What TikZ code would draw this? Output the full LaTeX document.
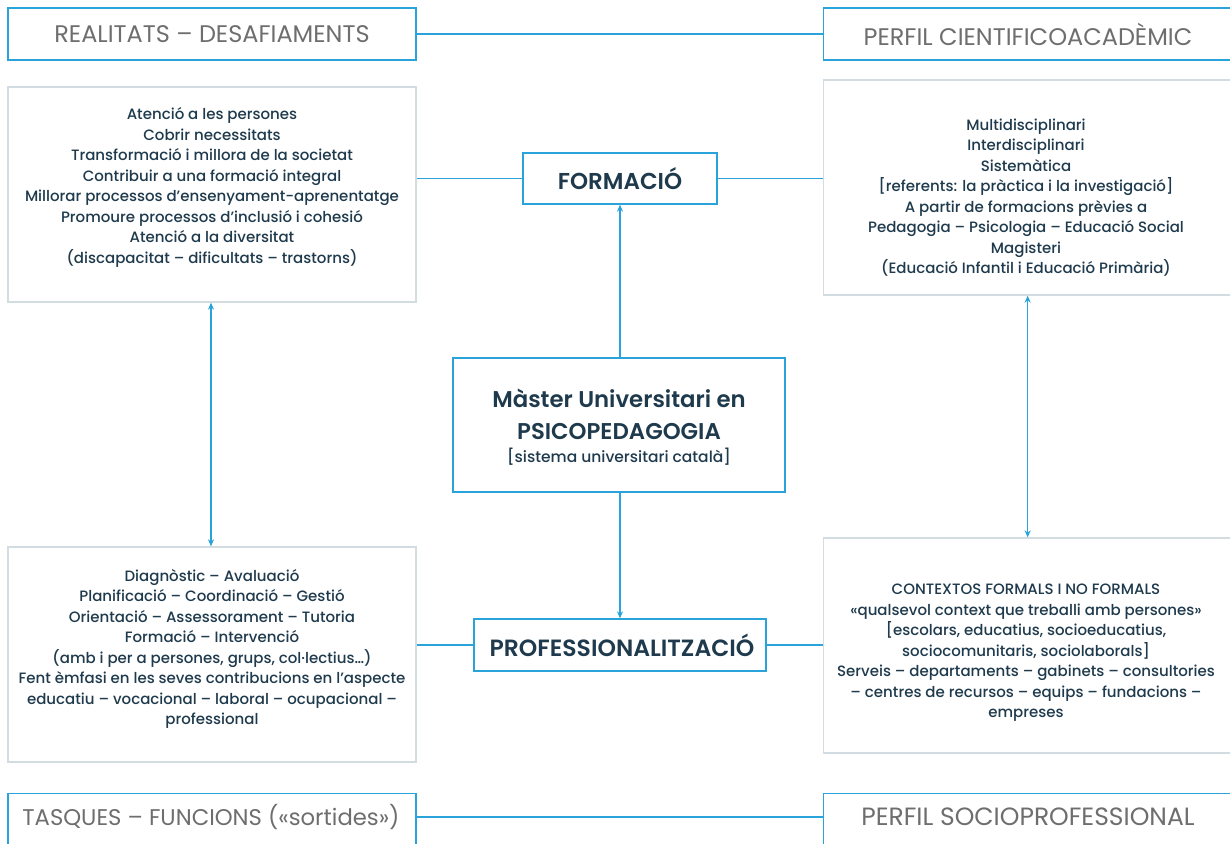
\documentclass[tikz,border=0pt]{standalone}
\usepackage{fontspec}
\setmainfont{Poppins Medium}[BoldFont={Poppins SemiBold}]
\newfontfamily\hdrfont{Poppins}
\usetikzlibrary{arrows.meta}
\definecolor{lblue}{HTML}{2AA3DA}
\definecolor{gbord}{HTML}{D3DCE0}
\definecolor{htext}{HTML}{6E6E6E}
\definecolor{btext}{HTML}{1E3A4C}
\tikzset{
  hbox/.style={draw=lblue, line width=1.3pt, fill=white, inner sep=0pt},
  htxt/.style={text=htext, font=\hdrfont\fontsize{24}{28}\selectfont, inner sep=0pt},
  gbox/.style={draw=gbord, line width=1.3pt, fill=white, inner sep=0pt},
  gtxt/.style={text=btext, align=center, font=\fontsize{15}{20.5}\selectfont, inner sep=0pt},
  kbox/.style={draw=lblue, line width=1.3pt, fill=white, text=btext, align=center, inner sep=0pt},
  conn/.style={draw=lblue, line width=1.3pt},
  arr/.style={conn, -{Stealth[length=7pt,width=6pt]}},
  darr/.style={conn, {Stealth[length=7pt,width=6pt]}-{Stealth[length=7pt,width=6pt]}}
}
\begin{document}
\begin{tikzpicture}[x=1pt,y=-1pt]
\useasboundingbox (0,0) rectangle (1230,843);
% header boxes
\node[hbox, minimum width=408pt, minimum height=52pt] (rd) at (212,34) {};
\node[htxt] (rdt) at (212,34) {REALITATS – DESAFIAMENTS};
\node[hbox, minimum width=410pt, minimum height=52pt, anchor=west] (pc) at (823,34) {};
\node[htxt] (pct) at (1028,34) {PERFIL CIENTIFICOACADÈMIC};
\node[hbox, minimum width=408pt, minimum height=60pt, anchor=north] (tf) at (212,793) {};
\node[htxt, font=\hdrfont\fontsize{22.7}{28}\selectfont] (tft) at (211,817) {TASQUES – FUNCIONS («sortides»)};
\node[hbox, minimum width=410pt, minimum height=60pt, anchor=north west] (ps) at (823,793) {};
\node[htxt, font=\hdrfont\fontsize{25}{28}\selectfont] (pst) at (1028,817) {PERFIL SOCIOPROFESSIONAL};
% text boxes
\node[gbox, minimum width=408pt, minimum height=215pt] (lt) at (212,194.5) {};
\node[gtxt] (ltt) at (212,187.5) {Atenció a les persones\\Cobrir necessitats\\Transformació i millora de la societat\\Contribuir a una formació integral\\Millorar processos d’ensenyament-aprenentatge\\Promoure processos d’inclusió i cohesió\\Atenció a la diversitat\\(discapacitat – dificultats – trastorns)};
\node[gbox, minimum width=410pt, minimum height=215pt, anchor=west] (rt) at (823,187.5) {};
\node[gtxt] (rtt) at (1026,197.5) {Multidisciplinari\\Interdisciplinari\\Sistemàtica\\{[}referents: la pràctica i la investigació{]}\\A partir de formacions prèvies a\\Pedagogia – Psicologia – Educació Social\\Magisteri\\(Educació Infantil i Educació Primària)};
\node[gbox, minimum width=408pt, minimum height=215pt] (lb) at (212,654.5) {};
\node[gtxt] (lbt) at (212,649) {Diagnòstic – Avaluació\\Planificació – Coordinació – Gestió\\Orientació – Assessorament – Tutoria\\Formació – Intervenció\\(amb i per a persones, grups, col·lectius…)\\Fent èmfasi en les seves contribucions en l’aspecte\\educatiu – vocacional – laboral – ocupacional –\\professional};
\node[gbox, minimum width=410pt, minimum height=215pt, anchor=west] (rb) at (823,645.5) {};
\node[gtxt] (rbt) at (1026,653) {CONTEXTOS FORMALS I NO FORMALS\\«qualsevol context que treballi amb persones»\\{[}escolars, educatius, socioeducatius,\\sociocomunitaris, sociolaborals{]}\\Serveis – departaments – gabinets – consultories\\– centres de recursos – equips – fundacions –\\empreses};
% key boxes
\node[kbox, minimum width=194pt, minimum height=51pt, font=\bfseries\fontsize{23}{26}\selectfont] (fo) at (620,178.5) {FORMACIÓ};
\node[kbox, minimum width=292pt, minimum height=52pt, font=\bfseries\fontsize{23.5}{26}\selectfont] (pr) at (620,645) {\hspace*{4pt}PROFESSIONALITZACIÓ};
\node[kbox, minimum width=332pt, minimum height=134pt] (ms) at (619,425) {};
\node[text=btext, align=center, font=\bfseries\fontsize{22.8}{32}\selectfont, inner sep=0pt] (mst) at (619,427) {Màster Universitari en\\PSICOPEDAGOGIA\\[-9pt]{\mdseries\fontsize{15.5}{18}\selectfont {[}sistema universitari català{]}}};
% connectors
\draw[conn] (rd.east) -- (pc.west);
\draw[conn] (tf.east |- tft) -- (ps.west |- tft);
\draw[conn] (lt.east |- fo.west) -- (fo.west);
\draw[conn] (fo.east) -- (rt.west |- fo.east);
\draw[conn] (lb.east |- pr.west) -- (pr.west);
\draw[conn] (pr.east) -- (rb.west |- pr.east);
\draw[arr] (ms.north -| fo.south) -- (fo.south);
\draw[arr] (ms.south -| pr.north) -- (pr.north);
\draw[darr] ([xshift=-1pt]lt.south) -- ([xshift=-1pt]lb.north);
\draw[darr] ([xshift=-1pt]rt.south) -- ([xshift=-1pt]rb.north);
\end{tikzpicture}
\end{document}
